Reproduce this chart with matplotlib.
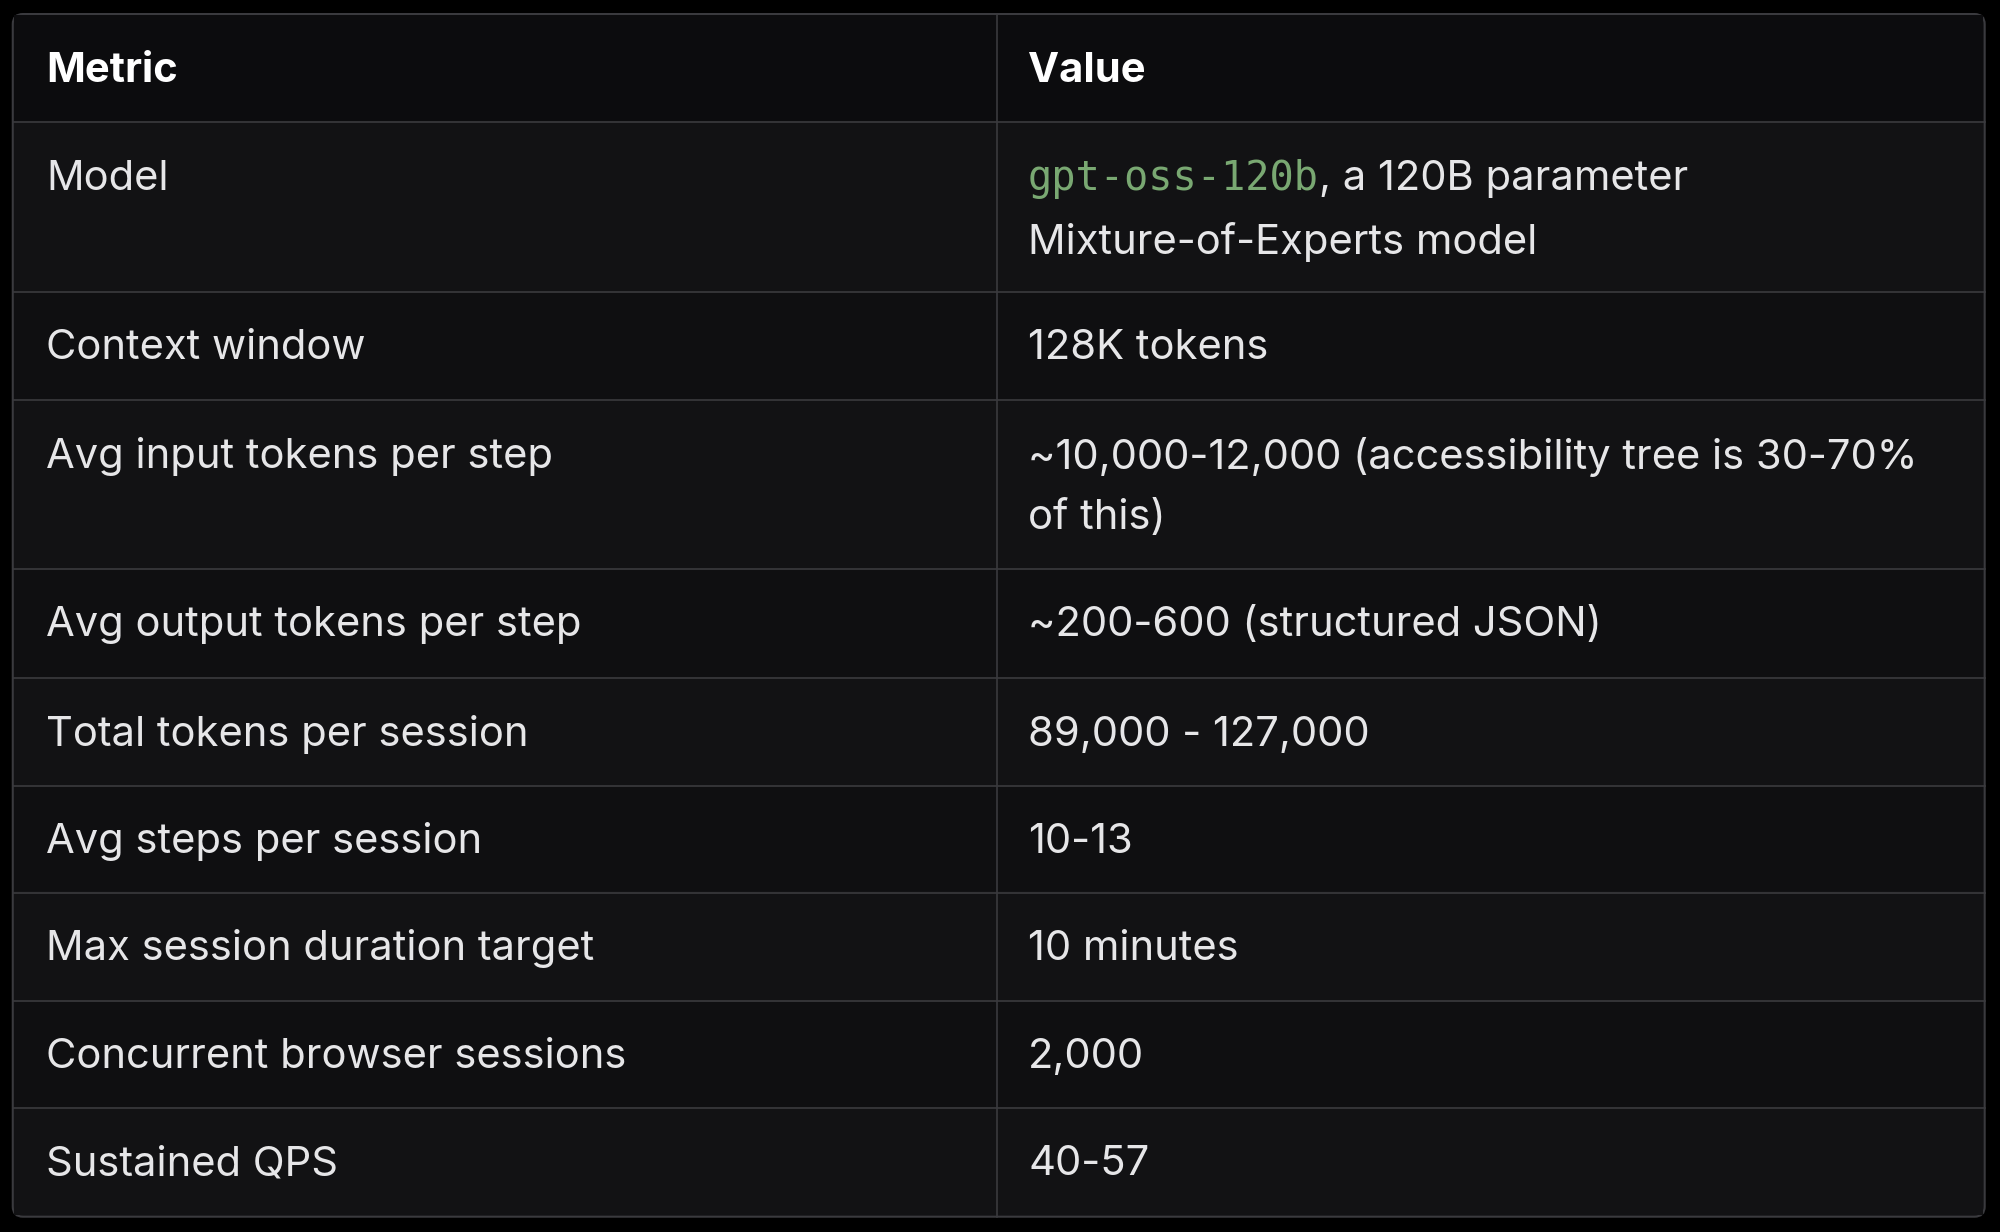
import matplotlib.pyplot as plt
from matplotlib.patches import FancyBboxPatch, Rectangle

# reference layout is 1568 x 966 px; everything below is in those units
W, H = 1568, 966

header = ["Metric", "Value"]
metrics = ["Model", "Context window", "Avg input tokens per step", "Avg output tokens per step",
           "Total tokens per session", "Avg steps per session", "Max session duration target",
           "Concurrent browser sessions", "Sustained QPS"]
values = [["gpt-oss-120b|, a 120B parameter", "Mixture-of-Experts model"],
          ["128K tokens"],
          ["~10,000-12,000 (accessibility tree is 30-70%", "of this)"],
          ["~200-600 (structured JSON)"],
          ["89,000 - 127,000"],
          ["10-13"],
          ["10 minutes"],
          ["2,000"],
          ["40-57"]]
row_edges = [11, 96, 229, 314, 446, 532, 616, 700, 785, 869, 954]

BG = "#000000"
TABLE = "#121214"
HEAD = "#0c0c0e"
ALT = "#0f0f11"
LINE = "#3a3a3e"
TXT = "#e6e6e8"
CODE = "#79a872"
FONT = ["Inter", "DejaVu Sans"]
FS = 30

fig = plt.figure(figsize=(20, 12.32), dpi=100, facecolor=BG)
ax = fig.add_axes([0, 0, 1, 1])
ax.set_xlim(0, W)
ax.set_ylim(H, 0)
ax.axis("off")

x0, x1, xm = 10, 1556, 782
ax.add_patch(FancyBboxPatch((x0, 11), x1 - x0, 943, boxstyle="round,pad=0,rounding_size=8",
                            fc=TABLE, ec=LINE, lw=1.5, zorder=1))
for i in range(len(row_edges) - 1):
    fc = HEAD if i == 0 else (TABLE if i % 2 else ALT)
    ax.add_patch(Rectangle((x0 + 1, row_edges[i] + 1), x1 - x0 - 2, row_edges[i + 1] - row_edges[i] - 2,
                           fc=fc, ec="none", zorder=1.5))
for y in row_edges[1:-1]:
    ax.plot([x0, x1], [y, y], color=LINE, lw=1.2, zorder=2)
ax.plot([xm, xm], [11, 954], color=LINE, lw=1.2, zorder=2)

tx1, tx2 = 36, 806
ax.text(tx1, 56, header[0], fontsize=FS, fontweight="bold", color="white", va="center", family=FONT)
ax.text(tx2, 56, header[1], fontsize=FS, fontweight="bold", color="white", va="center", family=FONT)

fig.canvas.draw()
renderer = fig.canvas.get_renderer()
for i, (m, vals) in enumerate(zip(metrics, values)):
    top = row_edges[i + 1]
    spacing = 50 if i == 0 else 48
    y = top + 44
    ax.text(tx1, y, m, fontsize=FS, color=TXT, va="center", family=FONT)
    for j, line in enumerate(vals):
        yy = y + j * spacing
        if "|" in line:
            code, rest = line.split("|")
            t = ax.text(tx2, yy, code, fontsize=FS - 1, color=CODE, va="center", family="DejaVu Sans Mono")
            bb = t.get_window_extent(renderer).transformed(ax.transData.inverted())
            ax.text(bb.x1, yy, rest, fontsize=FS, color=TXT, va="center", family=FONT)
        else:
            ax.text(tx2, yy, line, fontsize=FS, color=TXT, va="center", family=FONT)

fig.savefig("out.png", dpi=100, facecolor=BG)
